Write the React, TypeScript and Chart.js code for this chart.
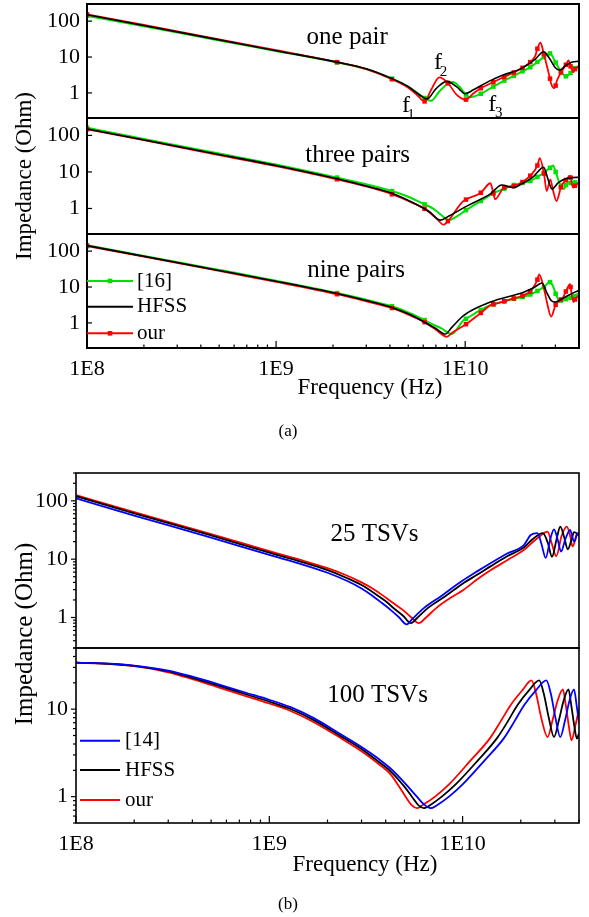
import React, { useEffect, useRef } from "react";
import { Chart, registerables } from "chart.js";

Chart.register(...registerables);

type Pt = [number, number]; // [frequency in GHz, impedance in Ohm]

// ---------- axes ----------
const FREQ_MIN_HZ = 1e8;
const FREQ_MAX_HZ = 4e10;
const X_TICK_VALUES = [1e8, 1e9, 1e10];
const X_TICK_TEXT = ["1E8", "1E9", "1E10"];
const Y_TICK_VALUES = [1, 10, 100];
const Y_TICK_TEXT = ["1", "10", "100"];

// frequencies (GHz) where the marked series show their square markers
const MARKER_GHZ = [0.1, 2.1, 4.1, 6.1, 8.1, 10.1, 12.1, 14.1, 16.1, 18.1, 20.1, 22.1, 24.1, 26.1, 28.1, 30.1, 32.1, 34.1, 36.1, 38.1];

// ---------- (a) one pair ----------
const A1_REF16: Pt[] = [[0.1,140],[0.2,72],[0.5,29],[1,14.8],[2.1,7.1],[3,4.6],[4.1,2.5],[5,1.5],[6.1,0.72],[6.6,0.6],[7.3,1.1],[8.1,1.8],[8.6,2.0],[9.3,1.5],[10.1,0.9],[10.6,0.76],[12.1,0.95],[14.1,1.5],[16.1,2.2],[18.1,3.0],[20.1,4.0],[22.1,5.2],[24.1,7.3],[26.1,10],[28.1,12.6],[30.1,7],[32.1,4],[34.1,2.9],[36.1,3.6],[38.1,4.9],[40,5.2]];
const A1_HFSS: Pt[] = [[0.1,150],[0.5,30],[1,15],[2.1,7.2],[3,4.7],[4.1,2.5],[5,1.5],[5.8,0.85],[6.3,0.68],[7,1.3],[8,2.1],[9,1.5],[10,0.95],[11,1.2],[13.6,2.2],[16,3.2],[19.5,4.6],[23.5,8.8],[26,14],[28,9],[30,5],[31.6,4.3],[34,5.8],[36.6,7.1],[40,7.6]];
const A1_OUR: Pt[] = [[0.1,155],[0.2,78],[0.5,31],[1,15.5],[2.1,7.2],[3,4.6],[4.1,2.4],[5,1.4],[5.6,0.85],[6.1,0.58],[6.6,1.2],[7.3,2.7],[8.1,1.9],[9,0.9],[10.1,0.65],[11,0.95],[12.1,1.35],[14.1,2.0],[16.1,2.8],[18.1,3.7],[20.1,5.0],[22.1,7.2],[23.5,11],[24.1,17],[25,25],[26.1,12],[27.6,3.7],[28.1,2.5],[28.5,1.8],[29.6,1.35],[30.1,1.6],[30.4,2.0],[31.8,3.4],[32.1,3.7],[33.9,5.8],[34.1,6.1],[35.2,8],[36.1,5.5],[37.4,3.8],[38.1,4.6],[40,5.7]];

// ---------- (a) three pairs ----------
const A2_REF16: Pt[] = [[0.1,163],[0.2,80],[0.5,32],[1,16],[2.1,7],[3,4.6],[4.1,3.0],[5,2.1],[6.1,1.3],[6.8,0.98],[7.5,0.65],[8.2,0.48],[9,0.6],[10.1,0.9],[11.3,1.3],[12.1,1.6],[14.1,2.6],[16.1,3.5],[18.1,4.4],[20.1,5.0],[22.1,5.7],[24.1,7.3],[26.1,9.5],[28.1,13],[29.2,15],[30.1,10],[31.6,4.8],[32.1,4.2],[33.3,3.4],[34.1,4.4],[35,5.2],[36.1,5],[38.1,5.2],[40,5]];
const A2_HFSS: Pt[] = [[0.1,150],[0.5,30],[1,15],[2.1,6.5],[3,4.1],[4.1,2.6],[5.5,1.3],[6.5,0.8],[7.4,0.48],[8.2,0.62],[10.2,1.16],[13.6,2.5],[15.6,4.4],[18,3.7],[20,4.8],[23,7.5],[26,13.5],[27.5,6],[28.8,3.4],[31,5],[34,6.5],[37,7],[40,7.1]];
const A2_OUR: Pt[] = [[0.1,147],[0.2,74],[0.5,29],[1,14.5],[2.1,6.3],[3,4],[4.1,2.45],[5,1.6],[6.1,0.98],[7,0.55],[7.7,0.36],[8.1,0.45],[9.6,1.45],[10.1,1.75],[12.1,2.7],[13.6,4.9],[14.1,2.6],[14.4,1.8],[15.9,3.6],[16.1,3.7],[18.1,4.1],[20.1,5.3],[22.1,7.9],[24.1,15],[24.8,24],[26.1,9],[27,3.0],[28.2,6.3],[29.2,3],[30.4,1.6],[32.1,3.8],[32.7,4.6],[34.1,6],[35.9,7.9],[36.1,7],[37.2,3.7],[38.1,4.2],[40,5]];

// ---------- (a) nine pairs ----------
const A3_REF16: Pt[] = [[0.1,147],[0.2,73],[0.5,30],[1,15],[2.1,6.8],[3,4.4],[4.1,2.9],[5,1.95],[6.1,1.2],[6.5,1.0],[7.5,0.7],[8.5,0.49],[9.8,1.19],[10.1,1.3],[12.1,2.3],[13.6,3.1],[14.1,3.3],[16.1,4.0],[18.1,4.7],[20.1,5.3],[22.1,6.2],[24.1,7.8],[26.1,10],[28.1,13.7],[29.5,9],[30.1,6.5],[31.6,4.1],[32.1,4.2],[34.1,4.6],[36.1,5],[38.1,5.6],[40,6.8]];
const A3_HFSS: Pt[] = [[0.1,142],[0.5,29],[1,14.5],[2.1,6.6],[3,4.2],[4.1,2.7],[5,1.8],[6,1.1],[7,0.7],[7.85,0.49],[8.5,0.75],[9.8,1.6],[13.6,3.8],[20.4,7.2],[23,9.5],[25.5,12.9],[27,7],[28.5,4.2],[29.8,3.8],[32,4.5],[35,5.8],[38,7.2],[40,8.1]];
const A3_OUR: Pt[] = [[0.1,138],[0.2,70],[0.5,28],[1,14],[2.1,6.3],[3,4],[4.1,2.6],[5,1.7],[6.1,1.05],[7,0.65],[8,0.41],[8.6,0.55],[10.1,0.92],[12.1,1.9],[13.6,3.1],[14.1,3.3],[16.1,4],[18.1,4.8],[20.1,5.7],[22.1,7.5],[23.5,12],[24.1,16],[24.6,22.6],[26,10],[27,4],[28.5,1.5],[30,3.1],[30.1,3.2],[32.1,4.5],[32.7,4.8],[34.1,7.5],[35.9,12],[36.1,10],[37.4,3.8],[38.1,4.5],[40,6]];

// ---------- (b) 25 TSVs ----------
const B1_REF14: Pt[] = [[0.1,110],[0.2,56],[0.5,23.4],[1,11.8],[1.45,8.3],[2,5.85],[2.5,4.3],[3,3.15],[3.33,2.5],[3.8,1.8],[4.24,1.35],[4.7,1.0],[5.13,0.76],[5.5,0.95],[6.3,1.45],[7.7,2.3],[10,4.3],[12,6.3],[14,8.6],[17,12.5],[20.8,17.6],[22.5,26],[24.4,28],[25.6,18],[26.9,10.5],[28.4,22],[29.7,32.4],[31,22],[32.3,13.5],[34,22],[36,31.6],[37.7,20],[39,26],[40,29]];
const B1_HFSS: Pt[] = [[0.1,120],[0.2,61],[0.5,25.6],[1,12.9],[1.45,9.1],[2,6.5],[2.5,4.8],[3,3.6],[3.5,2.6],[4,1.9],[4.45,1.4],[4.95,1.05],[5.4,0.8],[5.8,0.97],[6.6,1.45],[8.1,2.3],[10,3.8],[12,5.5],[14,7.6],[17,11.2],[20.8,16],[23,22],[26,28],[27.6,19],[29,11],[30.8,24],[32,36],[33.5,24],[35,14.8],[36.5,21],[37.7,29],[40,26]];
const B1_OUR: Pt[] = [[0.1,125],[0.2,64],[0.5,27],[1,13.7],[1.45,9.7],[2,7.0],[2.5,5.3],[3,4.0],[3.5,3.0],[4,2.2],[4.4,1.75],[4.9,1.35],[5.4,1.02],[5.94,0.8],[6.4,0.97],[7.3,1.45],[8.9,2.3],[10,2.9],[12,4.6],[14,6.5],[17,9.6],[20.8,14.5],[23,19.5],[25,24.5],[27.5,29.6],[29,18],[30.5,11.2],[32.5,25],[34.6,36],[36,25],[37,16.5],[38.2,21],[39,27],[40,25]];

// ---------- (b) 100 TSVs ----------
const B2_REF14: Pt[] = [[0.1,34],[0.15,33.2],[0.2,31.5],[0.3,27.6],[0.4,23.5],[0.535,19.5],[0.75,15.5],[1,12.8],[1.28,10.6],[1.7,7.9],[2.33,5.2],[3,3.7],[3.6,2.8],[4.24,2.1],[5,1.45],[5.8,1.0],[6.3,0.82],[6.83,0.74],[7.5,0.82],[8.5,1.0],[10,1.38],[13,2.6],[16.4,4.7],[18.5,7.2],[20.8,11.1],[24,16.5],[27.1,21.3],[28.6,15],[30.2,8],[32,4.8],[33.9,7.5],[35.7,12.5],[37.7,16.8],[38.9,11],[40,7]];
const B2_HFSS: Pt[] = [[0.1,34],[0.15,33],[0.2,31.2],[0.3,27],[0.4,22.8],[0.535,18.8],[0.75,14.9],[1,12.2],[1.28,10.1],[1.7,7.5],[2.33,4.95],[3,3.5],[3.6,2.6],[4.24,1.95],[5,1.3],[5.5,0.98],[5.9,0.8],[6.3,0.74],[6.9,0.82],[7.8,1.0],[9.2,1.38],[12,2.6],[15.1,4.7],[17.1,7.2],[19.2,11.1],[22.1,16.5],[24.9,21.3],[26.3,15],[27.9,8],[29.7,4.8],[31.5,7.5],[33.3,12.5],[35.3,16.8],[36.5,11],[37.8,6.5],[39,4.6],[40,5.3]];
const B2_OUR: Pt[] = [[0.1,34],[0.15,32.8],[0.2,31],[0.3,26.4],[0.4,22],[0.535,18],[0.75,14.2],[1,11.6],[1.28,9.6],[1.7,7.1],[2.33,4.7],[3,3.3],[3.6,2.45],[4.24,1.8],[4.7,1.3],[5.1,0.98],[5.45,0.8],[5.8,0.74],[6.3,0.82],[7.2,1.0],[8.5,1.38],[11,2.6],[13.9,4.7],[15.7,7.2],[17.7,11.1],[20.4,16.5],[22.7,21.3],[24,15],[25.5,8],[27.5,4.8],[29.2,7.5],[31,12.5],[33,16.8],[34.2,11],[35.4,6.5],[36.6,4.4],[38.3,6.5],[40,10]];

// ---------- styling ----------
const SERIF = '"Liberation Serif", "Times New Roman", serif';
const RED = "#ff0000";
const GREEN = "#00e000";
const BLUE = "#0000ff";
const BLACK = "#000000";
const PAGE_W = 589;

const LEGEND_A = [
  { label: "[16]", color: GREEN, marker: true },
  { label: "HFSS", color: BLACK, marker: false },
  { label: "our", color: RED, marker: true },
];
const LEGEND_B = [
  { label: "[14]", color: BLUE, marker: false },
  { label: "HFSS", color: BLACK, marker: false },
  { label: "our", color: RED, marker: false },
];

interface Series { data: Pt[]; color: string; width: number; markers?: boolean }
interface Label { text: string; g: number; z: number; size: number; sub?: string; dx?: number; dy?: number }
interface PanelDef {
  top: number; bottom: number; left: number; right: number;
  yMin: number; yMax: number; showX: boolean; style: "a" | "b";
  series: Series[]; labels: Label[];
  legend?: { items: typeof LEGEND_A; x0: number; x1: number; tx: number; rows: number[] };
}

const PANELS: PanelDef[] = [
  {
    top: 4, bottom: 118, left: 87, right: 579, yMin: 0.2, yMax: 300, showX: false, style: "a",
    series: [
      { data: A1_HFSS, color: BLACK, width: 1.6 },
      { data: A1_OUR, color: RED, width: 1.8, markers: true },
      { data: A1_REF16, color: GREEN, width: 2, markers: true },
    ],
    labels: [
      { text: "one pair", g: 2.376, z: 23, size: 25 },
      { text: "f", sub: "1", g: 4.87, z: 0.291, size: 24, dx: 5, dy: 7 },
      { text: "f", sub: "2", g: 7.19, z: 4.64, size: 24, dx: 5.5, dy: 7 },
      { text: "f", sub: "3", g: 13.9, z: 0.322, size: 24, dx: 6.5, dy: 6.6 },
    ],
  },
  {
    top: 118, bottom: 234, left: 87, right: 579, yMin: 0.2, yMax: 300, showX: false, style: "a",
    series: [
      { data: A2_HFSS, color: BLACK, width: 1.6 },
      { data: A2_OUR, color: RED, width: 1.8, markers: true },
      { data: A2_REF16, color: GREEN, width: 2, markers: true },
    ],
    labels: [{ text: "three pairs", g: 2.7, z: 18.6, size: 25 }],
  },
  {
    top: 234, bottom: 348, left: 87, right: 579, yMin: 0.2, yMax: 300, showX: true, style: "a",
    series: [
      { data: A3_HFSS, color: BLACK, width: 1.6 },
      { data: A3_OUR, color: RED, width: 1.8, markers: true },
      { data: A3_REF16, color: GREEN, width: 2, markers: true },
    ],
    labels: [{ text: "nine pairs", g: 2.65, z: 19, size: 25 }],
    legend: { items: LEGEND_A, x0: 0, x1: 46, tx: 50, rows: [47, 72.7, 99.3] },
  },
  {
    top: 473, bottom: 648, left: 76, right: 579, yMin: 0.3, yMax: 300, showX: false, style: "b",
    series: [
      { data: B1_REF14, color: BLUE, width: 1.8 },
      { data: B1_HFSS, color: BLACK, width: 1.8 },
      { data: B1_OUR, color: RED, width: 1.8 },
    ],
    labels: [{ text: "25 TSVs", g: 3.5, z: 20.8, size: 25 }],
  },
  {
    top: 648, bottom: 823, left: 76, right: 579, yMin: 0.5, yMax: 50, showX: true, style: "b",
    series: [
      { data: B2_REF14, color: BLUE, width: 1.8 },
      { data: B2_HFSS, color: BLACK, width: 1.8 },
      { data: B2_OUR, color: RED, width: 1.8 },
    ],
    labels: [{ text: "100 TSVs", g: 3.63, z: 12.2, size: 25 }],
    legend: { items: LEGEND_B, x0: 4, x1: 44, tx: 49, rows: [92.7, 122, 152] },
  },
];

const HTML_TEXTS = [
  { text: "Impedance (Ohm)", x: 23, y: 176, size: 23, rotate: true },
  { text: "Frequency (Hz)", x: 370, y: 385.5, size: 23, rotate: false },
  { text: "(a)", x: 288, y: 429.5, size: 17, rotate: false },
  { text: "Impedance (Ohm)", x: 23, y: 634, size: 25, rotate: true },
  { text: "Frequency (Hz)", x: 365, y: 862.5, size: 23, rotate: false },
  { text: "(b)", x: 288, y: 902.5, size: 17, rotate: false },
];

// ---------- helpers ----------
const toXY = (pts: Pt[]) => pts.map(([g, z]) => ({ x: g * 1e9, y: z }));
const isMarker = (hz: number) => MARKER_GHZ.some((m) => Math.abs(m * 1e9 - hz) < 1e3);
const labelFor = (values: number[], texts: string[], v: number) => {
  const i = values.findIndex((t) => Math.abs(t - v) <= t * 1e-6);
  return i >= 0 ? texts[i] : "";
};
function logGrid(min: number, max: number) {
  const out: { v: number; major: boolean }[] = [];
  for (let e = Math.floor(Math.log10(min)); e <= Math.ceil(Math.log10(max)); e++) {
    for (let k = 1; k <= 9; k++) {
      const v = k * Math.pow(10, e);
      if (v >= min * 0.9999 && v <= max * 1.0001) out.push({ v, major: k === 1 });
    }
  }
  return out;
}

const framePlugin = {
  id: "frame",
  afterDatasetsDraw(chart: any, _args: any, o: any) {
    const { ctx, chartArea: a } = chart;
    const xs = chart.scales.x;
    const ys = chart.scales.y;
    ctx.save();
    ctx.strokeStyle = "#000";
    ctx.lineWidth = 1.2;
    // y tick marks
    for (const t of logGrid(ys.min, ys.max)) {
      if (!t.major && !o.yMinor) continue;
      const len = t.major ? o.yMajorLen : o.yMinorLen;
      const y = ys.getPixelForValue(t.v);
      const dir = o.yOut ? -1 : 1;
      ctx.beginPath();
      ctx.moveTo(a.left, y);
      ctx.lineTo(a.left + dir * len, y);
      ctx.stroke();
    }
    // x tick marks (inward)
    if (o.showX) {
      for (const t of logGrid(xs.min, xs.max)) {
        const x = xs.getPixelForValue(t.v);
        const len = t.major ? 7 : 3.5;
        ctx.beginPath();
        ctx.moveTo(x, a.bottom);
        ctx.lineTo(x, a.bottom - len);
        ctx.stroke();
      }
    }
    ctx.lineWidth = o.frameWidth;
    ctx.strokeRect(a.left, a.top, a.right - a.left, a.bottom - a.top);

    // text labels inside the panel
    ctx.fillStyle = "#000";
    for (const l of o.labels as Label[]) {
      const px = xs.getPixelForValue(l.g * 1e9);
      const py = ys.getPixelForValue(l.z);
      ctx.font = `${l.size}px ${SERIF}`;
      ctx.textAlign = "center";
      ctx.textBaseline = "alphabetic";
      ctx.fillText(l.text, px, py);
      if (l.sub) {
        ctx.font = `15px ${SERIF}`;
        ctx.fillText(l.sub, px + (l.dx || 0), py + (l.dy || 0));
      }
    }
    // legend
    if (o.legend) {
      const L = o.legend;
      L.items.forEach((it: any, i: number) => {
        const y = a.top + L.rows[i];
        ctx.strokeStyle = it.color;
        ctx.lineWidth = 2;
        ctx.beginPath();
        ctx.moveTo(a.left + L.x0, y);
        ctx.lineTo(a.left + L.x1, y);
        ctx.stroke();
        if (it.marker) {
          ctx.fillStyle = it.color;
          ctx.fillRect(a.left + (L.x0 + L.x1) / 2 - 2.3, y - 2.3, 4.6, 4.6);
        }
        ctx.fillStyle = "#000";
        ctx.font = `21px ${SERIF}`;
        ctx.textAlign = "left";
        ctx.textBaseline = "middle";
        ctx.fillText(it.label, a.left + L.tx, y);
      });
    }
    ctx.restore();
  },
};

const PAD = 6;
const X_AXIS_H = 40;

function Panel({ def }: { def: PanelDef }) {
  const ref = useRef<HTMLCanvasElement>(null);
  const areaH = def.bottom - def.top;
  const height = PAD + areaH + (def.showX ? X_AXIS_H : PAD);
  useEffect(() => {
    const tickFont = { family: SERIF, size: 22 };
    const chart = new Chart(ref.current as HTMLCanvasElement, {
      type: "line",
      data: {
        datasets: def.series.map((s) => ({
          data: toXY(s.data),
          borderColor: s.color,
          backgroundColor: s.color,
          borderWidth: s.width,
          pointRadius: s.markers ? (c: any) => (c.raw && isMarker(c.raw.x) ? 3.2 : 0) : 0,
          pointHoverRadius: 0,
          pointHitRadius: 0,
          pointStyle: "rect",
          pointBorderWidth: 0,
          pointBackgroundColor: s.color,
          cubicInterpolationMode: "monotone",
          fill: false,
        })) as any,
      },
      options: {
        responsive: false,
        animation: false,
        events: [],
        layout: { padding: { top: PAD, bottom: def.showX ? 0 : PAD, left: 0, right: PAGE_W - def.right } },
        plugins: {
          legend: { display: false },
          tooltip: { enabled: false },
          frame: {
            yOut: def.style === "b",
            yMinor: def.style === "b",
            yMajorLen: 5,
            yMinorLen: 3,
            showX: def.showX,
            frameWidth: def.style === "a" ? 2 : 1.6,
            labels: def.labels,
            legend: def.legend,
          },
        } as any,
        scales: {
          x: {
            type: "logarithmic",
            min: FREQ_MIN_HZ,
            max: FREQ_MAX_HZ,
            display: def.showX,
            grid: { display: false, drawTicks: false },
            border: { display: false },
            afterBuildTicks: (s: any) => {
              s.ticks = X_TICK_VALUES.map((v) => ({ value: v }));
            },
            ticks: {
              autoSkip: false,
              maxRotation: 0,
              minRotation: 0,
              padding: 8,
              color: "#000",
              font: tickFont,
              callback: (v: any) => labelFor(X_TICK_VALUES, X_TICK_TEXT, Number(v)),
            },
            afterFit: (s: any) => {
              s.height = def.showX ? X_AXIS_H : 0;
              s.paddingLeft = 0;
              s.paddingRight = 0;
              s.paddingTop = 0;
              s.paddingBottom = 0;
            },
          },
          y: {
            type: "logarithmic",
            min: def.yMin,
            max: def.yMax,
            grid: { display: false, drawTicks: false },
            border: { display: false },
            afterBuildTicks: (s: any) => {
              s.ticks = Y_TICK_VALUES.filter((v) => v >= def.yMin && v <= def.yMax).map((v) => ({ value: v }));
            },
            ticks: {
              autoSkip: false,
              padding: def.style === "a" ? 7 : 8,
              color: "#000",
              font: tickFont,
              callback: (v: any) => labelFor(Y_TICK_VALUES, Y_TICK_TEXT, Number(v)),
            },
            afterFit: (s: any) => {
              s.width = def.left;
              s.paddingTop = 0;
              s.paddingBottom = 0;
              s.paddingLeft = 0;
              s.paddingRight = 0;
            },
          },
        } as any,
      },
      plugins: [framePlugin as any],
    });
    return () => chart.destroy();
  }, []);
  return (
    <canvas
      ref={ref}
      width={PAGE_W}
      height={height}
      style={{ position: "absolute", left: 0, top: def.top - PAD, width: PAGE_W, height }}
    />
  );
}

export default function App() {
  return (
    <div style={{ position: "absolute", left: 0, top: 0, width: PAGE_W, height: 917, background: "#fff", overflow: "hidden" }}>
      {PANELS.map((p, i) => (
        <Panel key={i} def={p} />
      ))}
      {HTML_TEXTS.map((t, i) => (
        <div
          key={"t" + i}
          style={{
            position: "absolute",
            left: t.x,
            top: t.y,
            transform: `translate(-50%, -50%)${t.rotate ? " rotate(-90deg)" : ""}`,
            fontFamily: SERIF,
            fontSize: t.size,
            lineHeight: 1,
            whiteSpace: "nowrap",
            color: "#000",
          }}
        >
          {t.text}
        </div>
      ))}
    </div>
  );
}
